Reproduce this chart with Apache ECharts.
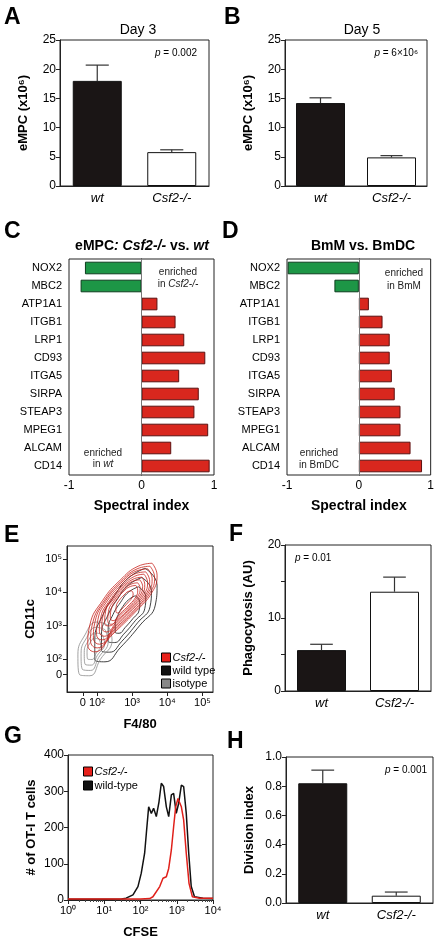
<!DOCTYPE html>
<html><head><meta charset="utf-8">
<script src="https://cdn.jsdelivr.net/npm/echarts@6/dist/echarts.min.js"></script>
<style>html,body{margin:0;padding:0;background:#fff}#c{width:437px;height:942px}</style>
</head><body><div id="c"></div>
<script>
const FONT = '"Liberation Sans", Arial, sans-serif';

// ---- bar panels (A, B, F, H) ----
const barCats = ['wt', 'Csf2-/-'];
const day3Mean = [18.0, 5.8];
const day3Err = [2.7, 0.4];
const day5Mean = [14.2, 4.9];
const day5Err = [0.9, 0.3];
const phagoMean = [5.6, 13.6];
const phagoErr = [0.8, 2.0];
const divMean = [0.82, 0.05];
const divErr = [0.09, 0.025];

// ---- spectral index panels (C, D) ----
const genes = ['NOX2','MBC2','ATP1A1','ITGB1','LRP1','CD93','ITGA5','SIRPA','STEAP3','MPEG1','ALCAM','CD14'];
const spectralC = [-0.78,-0.84,0.22,0.47,0.59,0.88,0.52,0.79,0.73,0.92,0.41,0.94];
const spectralD = [-0.99,-0.34,0.14,0.33,0.43,0.43,0.46,0.50,0.58,0.58,0.72,0.88];

// ---- flow contour panel (E), axis units: decades (0 plotted at 1.6 / 1.52) ----
const redContours = [
  [[3.57,4.88],[3.71,4.52],[3.57,4.01],[3.09,3.41],[2.43,2.72],[1.94,2.21],[1.74,2.42],[1.80,3.02],[2.17,3.77],[2.66,4.37],[3.17,4.79]],
  [[3.51,4.79],[3.64,4.46],[3.51,3.99],[3.07,3.44],[2.46,2.80],[2.01,2.33],[1.82,2.53],[1.88,3.08],[2.22,3.77],[2.67,4.32],[3.14,4.71]],
  [[3.45,4.71],[3.57,4.41],[3.45,3.97],[3.05,3.46],[2.49,2.88],[2.07,2.44],[1.90,2.62],[1.95,3.13],[2.26,3.77],[2.68,4.28],[3.11,4.64]],
  [[3.39,4.62],[3.50,4.34],[3.39,3.94],[3.02,3.49],[2.52,2.96],[2.14,2.57],[1.99,2.73],[2.03,3.19],[2.31,3.77],[2.69,4.23],[3.08,4.56]],
  [[3.34,4.55],[3.44,4.30],[3.34,3.94],[3.00,3.52],[2.55,3.04],[2.21,2.68],[2.07,2.83],[2.11,3.25],[2.37,3.77],[2.71,4.19],[3.06,4.48]],
  [[3.28,4.46],[3.36,4.24],[3.28,3.92],[2.98,3.55],[2.57,3.12],[2.27,2.81],[2.14,2.94],[2.18,3.33],[2.41,3.77],[2.71,4.14],[3.03,4.40]],
  [[3.22,4.38],[3.30,4.18],[3.22,3.90],[2.96,3.57],[2.60,3.19],[2.33,2.99],[2.22,3.07],[2.25,3.44],[2.45,3.77],[2.72,4.10],[3.00,4.33]],
  [[3.16,4.29],[3.23,4.12],[3.16,3.88],[2.94,3.60],[2.63,3.28],[2.40,3.04],[2.31,3.14],[2.33,3.43],[2.50,3.77],[2.73,4.05],[2.97,4.25]],
  [[3.11,4.21],[3.16,4.07],[3.11,3.87],[2.92,3.63],[2.65,3.35],[2.46,3.15],[2.38,3.23],[2.40,3.47],[2.55,3.77],[2.74,4.01],[2.95,4.18]],
  [[2.99,4.05],[3.03,3.96],[2.99,3.83],[2.87,3.68],[2.71,3.50],[2.59,3.38],[2.54,3.43],[2.55,3.58],[2.64,3.77],[2.77,3.92],[2.89,4.03]]
];
const wtContours = [
  [[3.37,4.73],[3.71,4.22],[3.66,3.62],[3.23,3.02],[2.66,2.33],[2.23,1.91],[1.94,1.97],[1.94,2.57],[2.17,3.32],[2.51,3.92],[2.89,4.43]],
  [[3.28,4.45],[3.55,4.05],[3.51,3.57],[3.16,3.09],[2.71,2.53],[2.36,2.20],[2.13,2.25],[2.13,2.73],[2.32,3.33],[2.59,3.81],[2.89,4.22]],
  [[3.18,4.17],[3.39,3.87],[3.36,3.51],[3.10,3.16],[2.76,2.74],[2.50,2.49],[2.32,2.52],[2.32,2.89],[2.46,3.34],[2.67,3.70],[2.89,4.00]],
  [[3.09,3.90],[3.22,3.70],[3.20,3.46],[3.03,3.22],[2.80,2.94],[2.63,2.77],[2.52,2.80],[2.52,3.04],[2.61,3.34],[2.74,3.58],[2.90,3.78]]
];
const isoContours = [
  [[2.31,3.02],[2.43,2.57],[2.09,1.97],[1.80,1.49],[1.51,1.52],[1.46,2.12],[1.66,2.72],[2.00,3.11]],
  [[2.23,2.88],[2.32,2.52],[2.05,2.04],[1.82,1.65],[1.59,1.68],[1.55,2.16],[1.71,2.64],[1.98,2.95]],
  [[2.15,2.73],[2.22,2.46],[2.01,2.10],[1.84,1.81],[1.67,1.83],[1.64,2.19],[1.76,2.55],[1.96,2.78]],
  [[2.06,2.59],[2.11,2.41],[1.98,2.17],[1.86,1.98],[1.74,1.99],[1.72,2.23],[1.80,2.47],[1.94,2.62]]
];
const flowTickPos = [1.6, 2, 3, 4, 5];
const flowTickPosY = [1.52, 2, 3, 4, 5];
const flowTickText = ['0', '10²', '10³', '10⁴', '10⁵'];

// ---- CFSE histogram (G) ----
const cfseWtX = [1, 10, 30, 40, 62, 85, 105, 130, 145, 168, 199, 230, 273, 324, 375, 435, 516, 600, 710, 820, 970, 1130, 1340, 1550, 1830, 2140, 2510, 3090, 5300, 10000];
const cfseWtY = [2, 2, 3, 5, 14, 37, 74, 129, 184, 257, 239, 253, 230, 271, 322, 313, 257, 230, 290, 294, 239, 267, 317, 313, 239, 129, 37, 9, 5, 4];
const cfseKoX = [1, 100, 180, 220, 339, 417, 516, 600, 710, 820, 935, 1080, 1200, 1340, 1550, 1830, 2180, 2700, 4300, 10000];
const cfseKoY = [3, 3, 4, 9, 37, 60, 64, 87, 138, 202, 257, 280, 276, 257, 221, 129, 46, 9, 5, 5];
const logTickText = {1:'10⁰', 10:'10¹', 100:'10²', 1000:'10³', 10000:'10⁴'};

// ---------------------------------------------------------------
const BLACK = '#1a1515', RED = '#d9271e', GREEN = '#1d9646';
const AX = {lineStyle:{color:'#222', width:1}};

function grid(l, t, w, h) { return {left:l, top:t, width:w, height:h, show:true, borderColor:'#222', borderWidth:1, backgroundColor:'transparent'}; }
function catX(gi) {
  return {type:'category', gridIndex:gi, data:barCats, axisLine:AX,
    axisTick:{alignWithLabel:true, length:4, lineStyle:{color:'#222'}},
    axisLabel:{fontStyle:'italic', fontSize:13, color:'#000', margin:6, fontFamily:FONT}};
}
function valY(gi, min, max, interval, name, gap, fmt) {
  return {type:'value', gridIndex:gi, min:min, max:max, interval:interval,
    name:name, nameLocation:'middle', nameGap:gap,
    nameTextStyle:{fontWeight:'bold', fontSize:13, color:'#000', fontFamily:FONT},
    axisLine:{show:true, lineStyle:{color:'#222'}}, axisTick:{show:true, length:4, lineStyle:{color:'#222'}},
    splitLine:{show:false}, axisLabel:{fontSize:12, color:'#000', margin:4, fontFamily:FONT, formatter:fmt}};
}
function barSeries(gi, mean) {
  return {type:'bar', xAxisIndex:gi, yAxisIndex:gi, barWidth:49,
    data: mean.map((v,i)=>({value:v, itemStyle:{color: i===0?BLACK:'#fff', borderColor:'#111', borderWidth:1}}))};
}
function errRender(params, api) {
  const x = api.value(0), m = api.value(1), e = api.value(2);
  const p0 = api.coord([x, m]), p1 = api.coord([x, m + e]);
  const half = api.size([1, 0])[0] * 0.155;
  const st = {stroke:'#333', lineWidth:1.2};
  return {type:'group', children:[
    {type:'line', shape:{x1:p0[0], y1:p0[1], x2:p1[0], y2:p1[1]}, style:st},
    {type:'line', shape:{x1:p1[0]-half, y1:p1[1], x2:p1[0]+half, y2:p1[1]}, style:st}
  ]};
}
function errSeries(gi, mean, err) {
  return {type:'custom', xAxisIndex:gi, yAxisIndex:gi, z:5, renderItem:errRender,
    data: mean.map((v,i)=>[i, v, err[i]])};
}
function specX(gi) {
  return {type:'value', gridIndex:gi, min:-1, max:1, interval:1,
    name:'Spectral index', nameLocation:'middle', nameGap:24,
    nameTextStyle:{fontWeight:'bold', fontSize:14, color:'#000', fontFamily:FONT},
    axisLine:AX, axisTick:{length:4, lineStyle:{color:'#222'}}, splitLine:{show:false},
    axisLabel:{fontSize:12, color:'#000', margin:5, fontFamily:FONT}};
}
function specY(gi) {
  return {type:'category', gridIndex:gi, data:genes, inverse:true,
    axisLine:AX, axisTick:{show:false},
    axisLabel:{fontSize:11, color:'#000', margin:7, fontFamily:FONT}};
}
function specSeries(gi, vals) {
  return {type:'bar', xAxisIndex:gi, yAxisIndex:gi, barWidth:'70%',
    data: vals.map(v=>({value:v, itemStyle:{color: v<0?GREEN:RED, borderColor: v<0?'#0d3d1e':'#5b1010', borderWidth:1}})),
    markLine:{silent:true, symbol:'none', label:{show:false}, data:[{xAxis:0}], lineStyle:{color:'#777', type:'solid', width:1}}};
}
function ringSeries(rings, name, color, width) {
  return rings.map(r => ({type:'line', name:name, xAxisIndex:4, yAxisIndex:4, smooth:0.5, symbol:'none',
    color:color, lineStyle:{color:color, width:width}, data: r.concat([r[0]])}));
}

const txt = (x, y, text, size, opts) => Object.assign({type:'text', x:x, y:y, z:100,
  style:Object.assign({text:text, fontSize:size, fontFamily:FONT, fill:'#000', align:'left', verticalAlign:'middle'}, (opts||{}))});
const letter = (x, y, t) => txt(x, y, t, 23, {fontWeight:'bold', verticalAlign:'top'});
const pRich = {i:{fontStyle:'italic', fontSize:10, fontFamily:FONT, fill:'#000'}, n:{fontSize:10, fontFamily:FONT, fill:'#000'}};
const annRich = {i:{fontStyle:'italic', fontSize:10, fontFamily:FONT, fill:'#222'}, n:{fontSize:10, fontFamily:FONT, fill:'#222'}};
const titleRich = {b:{fontWeight:'bold', fontSize:14, fontFamily:FONT, fill:'#000'}, bi:{fontWeight:'bold', fontStyle:'italic', fontSize:14, fontFamily:FONT, fill:'#000'}};

const option = {
  backgroundColor:'#fff',
  animation:false,
  textStyle:{fontFamily:FONT},
  grid:[
    grid(60, 40, 149, 146),   // A
    grid(285, 40, 142, 146),  // B
    grid(69, 259, 145, 216),  // C
    grid(287, 259, 145, 216), // D
    grid(67, 546, 146, 146),  // E
    grid(285, 545, 146, 146), // F
    grid(68, 755, 145, 145),  // G
    grid(286, 757, 147, 146)  // H
  ],
  xAxis:[
    catX(0), catX(1), specX(2), specX(3),
    {type:'value', gridIndex:4, min:1.15, max:5.3, name:'F4/80', nameLocation:'middle', nameGap:26,
      nameTextStyle:{fontWeight:'bold', fontSize:13, color:'#000', fontFamily:FONT},
      axisLine:AX, splitLine:{show:false},
      axisTick:{customValues:flowTickPos, length:4, lineStyle:{color:'#222'}},
      axisLabel:{customValues:flowTickPos, fontSize:11, color:'#000', margin:5, fontFamily:FONT,
        formatter:(v)=>flowTickText[flowTickPos.findIndex(p=>Math.abs(p-v)<1e-6)]}},
    catX(5),
    {type:'log', gridIndex:6, logBase:10, min:1, max:10000, name:'CFSE', nameLocation:'middle', nameGap:26,
      nameTextStyle:{fontWeight:'bold', fontSize:13, color:'#000', fontFamily:FONT},
      axisLine:AX, splitLine:{show:false},
      axisTick:{length:4, lineStyle:{color:'#222'}},
      minorTick:{show:true, splitNumber:9, length:2, lineStyle:{color:'#444'}},
      axisLabel:{fontSize:11, color:'#000', margin:5, fontFamily:FONT, formatter:(v)=>logTickText[Math.round(v)]||''}},
    catX(7)
  ],
  yAxis:[
    valY(0, 0, 25, 5, 'eMPC (x10⁶)', 30),
    valY(1, 0, 25, 5, 'eMPC (x10⁶)', 30),
    specY(2), specY(3),
    {type:'value', gridIndex:4, min:1.0, max:5.4, name:'CD11c', nameLocation:'middle', nameGap:30,
      nameTextStyle:{fontWeight:'bold', fontSize:13, color:'#000', fontFamily:FONT},
      axisLine:AX, splitLine:{show:false},
      axisTick:{customValues:flowTickPosY, length:4, lineStyle:{color:'#222'}},
      axisLabel:{customValues:flowTickPosY, fontSize:11, color:'#000', margin:5, fontFamily:FONT,
        formatter:(v)=>flowTickText[flowTickPosY.findIndex(p=>Math.abs(p-v)<1e-6)]}},
    valY(5, 0, 20, 5, 'Phagocytosis (AU)', 30, (v)=> v % 10 === 0 ? String(v) : ''),
    valY(6, 0, 400, 100, '# of OT-I T cells', 30),
    valY(7, 0, 1, 0.2, 'Division index', 30, (v)=>v.toFixed(1))
  ],
  legend:[
    {left:156, top:647, orient:'vertical', itemGap:2, itemWidth:9, itemHeight:9, icon:'rect',
      data:[{name:'Csf2-/-', itemStyle:{color:'#e8211b'}}, {name:'wild type', itemStyle:{color:'#111'}}, {name:'isotype', itemStyle:{color:'#888'}}],
      itemStyle:{borderColor:'#000', borderWidth:1},
      formatter:(n)=> n==='Csf2-/-' ? '{i|'+n+'}' : n,
      textStyle:{fontSize:11, color:'#000', fontFamily:FONT, padding:[0,0,0,-3], rich:{i:{fontStyle:'italic', fontSize:11, fontFamily:FONT}}}},
    {left:78, top:761, orient:'vertical', itemGap:3, itemWidth:9, itemHeight:9, icon:'rect',
      data:[{name:'Csf2-/-', itemStyle:{color:'#e8211b'}}, {name:'wild-type', itemStyle:{color:'#111'}}],
      itemStyle:{borderColor:'#000', borderWidth:1},
      formatter:(n)=> n==='Csf2-/-' ? '{i|'+n+'}' : n,
      textStyle:{fontSize:11, color:'#000', fontFamily:FONT, padding:[0,0,0,-3], rich:{i:{fontStyle:'italic', fontSize:11, fontFamily:FONT}}}}
  ],
  series:[
    barSeries(0, day3Mean), errSeries(0, day3Mean, day3Err),
    barSeries(1, day5Mean), errSeries(1, day5Mean, day5Err),
    specSeries(2, spectralC), specSeries(3, spectralD),
    ...ringSeries(wtContours, 'wild type', '#111', 0.8),
    ...ringSeries(isoContours, 'isotype', '#8a8a8a', 0.8),
    ...ringSeries(redContours, 'Csf2-/-', '#c8221c', 0.8),
    barSeries(5, phagoMean), errSeries(5, phagoMean, phagoErr),
    {type:'line', name:'wild-type', xAxisIndex:6, yAxisIndex:6, symbol:'none', color:'#111',
      lineStyle:{color:'#111', width:1.5}, data: cfseWtX.map((x,i)=>[x, cfseWtY[i]])},
    {type:'line', name:'Csf2-/-', xAxisIndex:6, yAxisIndex:6, symbol:'none', color:'#e0201a',
      lineStyle:{color:'#e0201a', width:1.5}, data: cfseKoX.map((x,i)=>[x, cfseKoY[i]])},
    barSeries(7, divMean), errSeries(7, divMean, divErr)
  ],
  graphic:[
    letter(4, 6, 'A'), letter(224, 6, 'B'), letter(4, 220, 'C'), letter(222, 220, 'D'),
    letter(4, 524, 'E'), letter(229, 523, 'F'), letter(4, 725, 'G'), letter(227, 730, 'H'),
    txt(138, 30, 'Day 3', 14, {align:'center'}),
    txt(362, 30, 'Day 5', 14, {align:'center'}),
    txt(142, 246, '{b|eMPC}{bi|: Csf2-/-}{b| vs. }{bi|wt}', 14, {align:'center', rich:titleRich}),
    txt(363, 246, 'BmM vs. BmDC', 14, {align:'center', fontWeight:'bold'}),
    txt(197, 53, '{i|p}{n| = 0.002}', 10, {align:'right', rich:pRich}),
    txt(418, 53, '{i|p}{n| = 6×10⁶}', 10, {align:'right', rich:pRich}),
    txt(295, 558, '{i|p}{n| = 0.01}', 10, {align:'left', rich:pRich}),
    txt(427, 770, '{i|p}{n| = 0.001}', 10, {align:'right', rich:pRich}),
    txt(178, 272, 'enriched', 10, {align:'center', fill:'#222'}),
    txt(178, 284, '{n|in }{i|Csf2-/-}', 10, {align:'center', rich:annRich}),
    txt(103, 453, 'enriched', 10, {align:'center', fill:'#222'}),
    txt(103, 464, '{n|in }{i|wt}', 10, {align:'center', rich:annRich}),
    txt(404, 273, 'enriched', 10, {align:'center', fill:'#222'}),
    txt(404, 286, 'in BmM', 10, {align:'center', fill:'#222'}),
    txt(319, 453, 'enriched', 10, {align:'center', fill:'#222'}),
    txt(319, 465, 'in BmDC', 10, {align:'center', fill:'#222'})
  ]
};
const chart = echarts.init(document.getElementById('c'), null, {renderer:'canvas'});
chart.setOption(option);
</script>
</body></html>
